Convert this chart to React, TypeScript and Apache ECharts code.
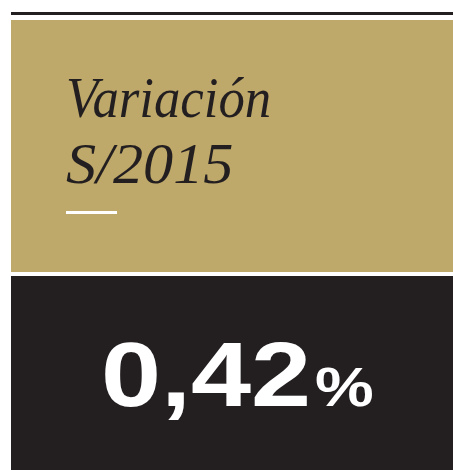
import React, { useEffect, useRef } from "react";
import * as echarts from "echarts";

const titleLines = ["Variación", "S/2015"];
const values = [0.42];
const unit = "%";

const GOLD = "#bea96a";
const DARK = "#231f20";

export default function App() {
  const ref = useRef<HTMLDivElement>(null);
  useEffect(() => {
    document.body.style.margin = "0";
    const chart = echarts.init(ref.current!, null, { renderer: "svg" });
    const valueText = values[0].toFixed(2).replace(".", ",");
    chart.setOption({
      animation: false,
      graphic: [
        { type: "rect", shape: { x: 11, y: 12, width: 442, height: 3 }, style: { fill: DARK } },
        { type: "rect", shape: { x: 11, y: 20, width: 442, height: 252 }, style: { fill: GOLD } },
        { type: "rect", shape: { x: 11, y: 276, width: 442, height: 194 }, style: { fill: DARK } },
        {
          type: "text", x: 66, y: 97.4, scaleX: 0.91,
          style: { text: titleLines[0], fill: DARK, font: "italic 58px 'Liberation Serif'", verticalAlign: "middle" },
        },
        {
          type: "text", x: 66, y: 163.4, scaleX: 1.04,
          style: { text: titleLines[1], fill: DARK, font: "italic 58px 'Liberation Serif'", verticalAlign: "middle" },
        },
        { type: "rect", shape: { x: 66, y: 211, width: 51, height: 3 }, style: { fill: "#ffffff" } },
        {
          type: "text", x: 101, y: 374.8, scaleX: 1.2,
          style: { text: valueText, fill: "#ffffff", font: "bold 90px 'Liberation Sans'", verticalAlign: "middle" },
        },
        {
          type: "text", x: 315, y: 386.9, scaleX: 1.2,
          style: { text: unit, fill: "#ffffff", font: "bold 55px 'Liberation Sans'", verticalAlign: "middle" },
        },
      ],
    });
    return () => chart.dispose();
  }, []);
  return <div ref={ref} style={{ width: 453, height: 470, position: "absolute", left: 0, top: 0 }} />;
}
